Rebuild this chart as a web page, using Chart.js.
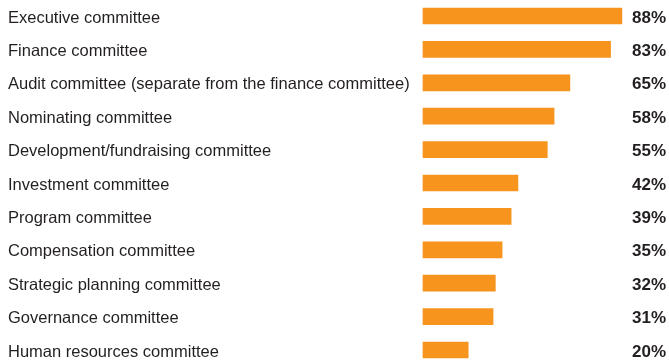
<!DOCTYPE html>
<html lang="en">
<head>
    <meta charset="UTF-8">
    <title>Board committees</title>
    <script src="https://cdn.jsdelivr.net/npm/chart.js"></script>
    <style>
        html, body {
            margin: 0;
            padding: 0;
            background: #fff;
        }
        .chart-container {
            position: relative;
            width: 669px;
            height: 362px;
        }
    </style>
</head>
<body>
    <div class="chart-container">
        <canvas id="committeeChart"></canvas>
    </div>

    <script>
        const committees = [
            "Executive committee",
            "Finance committee",
            "Audit committee (separate from the finance committee)",
            "Nominating committee",
            "Development/fundraising committee",
            "Investment committee",
            "Program committee",
            "Compensation committee",
            "Strategic planning committee",
            "Governance committee",
            "Human resources committee"
        ];
        const percentages = [88, 83, 65, 58, 55, 42, 39, 35, 32, 31, 20];

        const textColor = "#231f20";
        const fontFamily = "'Liberation Sans', Arial, sans-serif";

        // percentage labels, right-aligned at the canvas edge
        const valueLabels = {
            id: "valueLabels",
            afterDatasetsDraw(chart) {
                const ctx = chart.ctx;
                const meta = chart.getDatasetMeta(0);
                ctx.save();
                ctx.font = "bold 17px " + fontFamily;
                ctx.fillStyle = textColor;
                ctx.textAlign = "right";
                ctx.textBaseline = "middle";
                meta.data.forEach((bar, i) => {
                    ctx.fillText(percentages[i] + "%", chart.width - 3, bar.y + 2);
                });
                ctx.restore();
            }
        };

        let ctx = document.getElementById("committeeChart").getContext("2d");
        let committeeChart = new Chart(ctx, {
            type: "bar",
            data: {
                labels: committees,
                datasets: [{
                    data: percentages,
                    backgroundColor: "#f7941d",
                    barThickness: 16,
                    clip: false
                }]
            },
            options: {
                indexAxis: "y",
                responsive: true,
                maintainAspectRatio: false,
                animation: false,
                layout: {
                    padding: { left: 8, right: 20, top: 16, bottom: 12 }
                },
                plugins: {
                    legend: { display: false },
                    tooltip: { enabled: false }
                },
                scales: {
                    x: {
                        display: false,
                        min: 0,
                        max: 100
                    },
                    y: {
                        offset: false,
                        grid: { display: false },
                        border: { display: false },
                        ticks: {
                            crossAlign: "far",
                            color: textColor,
                            padding: 0,
                            labelOffset: 2,
                            font: { family: fontFamily, size: 16.5 }
                        },
                        afterFit(scale) {
                            scale.width = 415;
                        }
                    }
                }
            },
            plugins: [valueLabels]
        });
    </script>
</body>
</html>
